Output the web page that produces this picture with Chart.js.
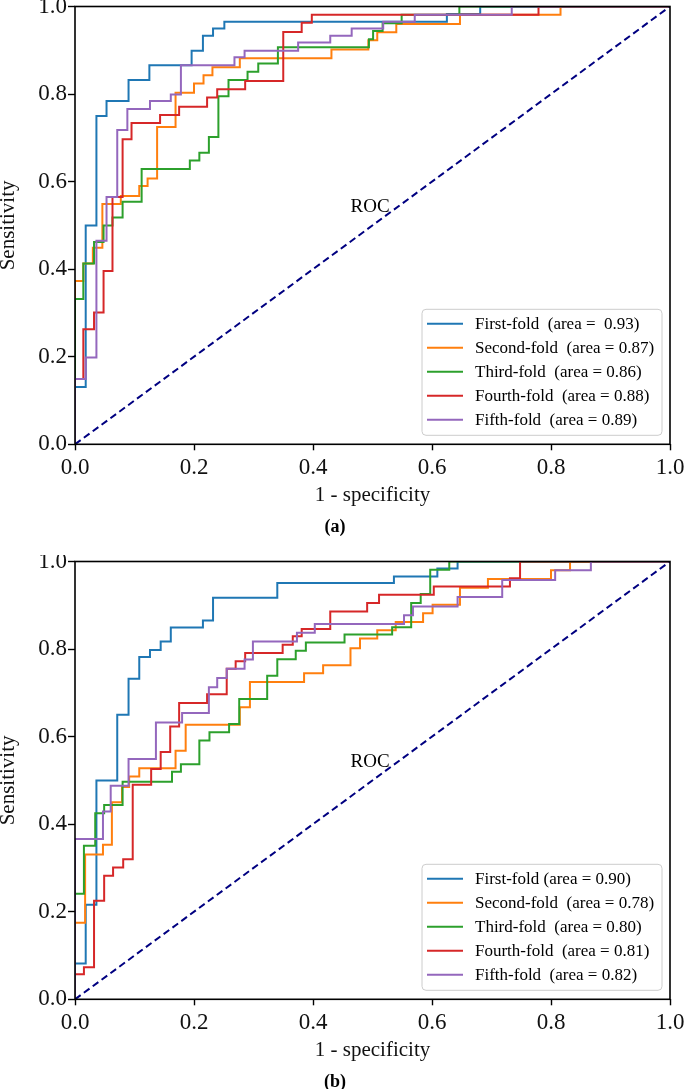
<!DOCTYPE html>
<html>
<head>
<meta charset="utf-8">
<script src="https://cdn.jsdelivr.net/npm/chart.js@4.4.0/dist/chart.umd.min.js"></script>
<style>
  html, body { margin: 0; padding: 0; background: #fff; overflow: hidden; }
  .panel { position: absolute; left: 0; width: 685px; height: 555px; }
  #panelA { top: 0; }
  #panelB { top: 555px; }
</style>
</head>
<body>
<div class="panel" id="panelA"><canvas id="rocA"></canvas></div>
<div class="panel" id="panelB"><canvas id="rocB"></canvas></div>
<script>
// ROC points: at each fpr value the curve rises to the tpr value
const fprA1 = [0, 0, 0.018, 0.036, 0.053, 0.090, 0.125, 0.196, 0.215, 0.232, 0.251, 0.625, 0.681, 1];
const tprA1 = [0, 0.131, 0.500, 0.750, 0.784, 0.832, 0.866, 0.899, 0.933, 0.950, 0.965, 0.983, 1.0, 1];
const fprA2 = [0, 0, 0.014, 0.030, 0.046, 0.077, 0.108, 0.122, 0.138, 0.169, 0.200, 0.216, 0.231, 0.277, 0.431, 0.493, 0.508, 0.540, 0.647, 0.816, 1];
const tprA2 = [0, 0.373, 0.413, 0.449, 0.549, 0.567, 0.590, 0.607, 0.725, 0.803, 0.824, 0.843, 0.861, 0.882, 0.902, 0.923, 0.941, 0.960, 0.981, 1.0, 1];
const fprA3 = [0, 0, 0.014, 0.032, 0.048, 0.063, 0.080, 0.112, 0.193, 0.209, 0.225, 0.241, 0.258, 0.290, 0.308, 0.341, 0.494, 0.501, 0.517, 0.549, 0.646, 1];
const tprA3 = [0, 0.332, 0.413, 0.462, 0.500, 0.518, 0.554, 0.629, 0.648, 0.666, 0.702, 0.795, 0.832, 0.851, 0.870, 0.907, 0.925, 0.944, 0.962, 0.981, 1.0, 1];
const fprA4 = [0, 0, 0.014, 0.032, 0.048, 0.063, 0.080, 0.095, 0.143, 0.175, 0.222, 0.239, 0.286, 0.350, 0.381, 0.398, 0.779, 1];
const tprA4 = [0, 0.149, 0.263, 0.301, 0.396, 0.565, 0.697, 0.734, 0.752, 0.771, 0.792, 0.811, 0.830, 0.942, 0.963, 0.981, 1.0, 1];
const fprA5 = [0, 0, 0.018, 0.036, 0.053, 0.071, 0.088, 0.126, 0.161, 0.178, 0.268, 0.285, 0.375, 0.429, 0.465, 0.518, 0.571, 0.734, 1];
const tprA5 = [0, 0.149, 0.198, 0.465, 0.565, 0.718, 0.766, 0.784, 0.799, 0.866, 0.884, 0.899, 0.918, 0.933, 0.950, 0.965, 0.981, 1.0, 1];

const fprB1 = [0, 0, 0.018, 0.036, 0.071, 0.090, 0.108, 0.126, 0.144, 0.161, 0.215, 0.232, 0.340, 0.536, 0.609, 0.643, 1];
const tprB1 = [0, 0.082, 0.216, 0.500, 0.650, 0.732, 0.782, 0.798, 0.817, 0.849, 0.865, 0.917, 0.951, 0.966, 0.984, 1.0, 1];
const fprB2 = [0, 0, 0.017, 0.047, 0.062, 0.079, 0.091, 0.108, 0.169, 0.186, 0.277, 0.294, 0.385, 0.417, 0.463, 0.479, 0.508, 0.539, 0.585, 0.601, 0.647, 0.694, 0.800, 0.832, 1];
const tprB2 = [0, 0.175, 0.331, 0.353, 0.450, 0.485, 0.509, 0.528, 0.568, 0.627, 0.667, 0.725, 0.745, 0.763, 0.802, 0.824, 0.843, 0.862, 0.882, 0.901, 0.940, 0.960, 0.980, 1.0, 1];
const fprB3 = [0, 0, 0.015, 0.034, 0.049, 0.080, 0.163, 0.178, 0.209, 0.226, 0.259, 0.276, 0.323, 0.340, 0.371, 0.388, 0.453, 0.533, 0.565, 0.581, 0.597, 0.629, 1];
const tprB3 = [0, 0.241, 0.351, 0.425, 0.444, 0.497, 0.520, 0.537, 0.591, 0.610, 0.629, 0.686, 0.739, 0.777, 0.796, 0.815, 0.833, 0.850, 0.905, 0.926, 0.981, 1.0, 1];
const fprB4 = [0, 0, 0.015, 0.032, 0.049, 0.064, 0.081, 0.097, 0.128, 0.144, 0.160, 0.175, 0.222, 0.255, 0.270, 0.286, 0.349, 0.366, 0.381, 0.429, 0.491, 0.511, 0.603, 0.731, 0.748, 1];
const tprB4 = [0, 0.057, 0.073, 0.225, 0.282, 0.301, 0.320, 0.490, 0.526, 0.565, 0.623, 0.677, 0.697, 0.755, 0.772, 0.791, 0.810, 0.829, 0.846, 0.886, 0.905, 0.924, 0.943, 0.962, 1.0, 1];
const fprB5 = [0, 0, 0.047, 0.060, 0.090, 0.136, 0.180, 0.225, 0.239, 0.255, 0.285, 0.299, 0.373, 0.403, 0.553, 0.568, 0.643, 0.718, 0.807, 0.867, 1];
const tprB5 = [0, 0.366, 0.429, 0.488, 0.549, 0.632, 0.654, 0.713, 0.734, 0.755, 0.776, 0.817, 0.837, 0.857, 0.877, 0.897, 0.919, 0.958, 0.980, 1.0, 1];

const legendA = ["First-fold  (area =  0.93)", "Second-fold  (area = 0.87)", "Third-fold  (area = 0.86)", "Fourth-fold  (area = 0.88)", "Fifth-fold  (area = 0.89)"];
const legendB = ["First-fold (area = 0.90)", "Second-fold  (area = 0.78)", "Third-fold  (area = 0.80)", "Fourth-fold  (area = 0.81)", "Fifth-fold  (area = 0.82)"];
const chanceLine = [0, 1];
const axisTicks = [0, 0.2, 0.4, 0.6, 0.8, 1.0];

const foldColors = ["#1f77b4", "#ff7f0e", "#2ca02c", "#d62728", "#9467bd"];
const serif = "'Liberation Serif', 'Times New Roman', serif";

function toPoints(fpr, tpr) {
  const n = Math.min(fpr.length, tpr.length);
  const pts = [];
  for (let i = 0; i < n; i++) pts.push({ x: fpr[i], y: tpr[i] });
  return pts;
}

// frame, "ROC" note and the legend box inside the axes
const decorPlugin = {
  id: "decor",
  afterDraw(chart) {
    const ctx = chart.ctx;
    const a = chart.chartArea;
    const xs = chart.scales.x, ys = chart.scales.y;
    ctx.save();

    ctx.fillStyle = "#000";
    ctx.font = "19px " + serif;
    ctx.textAlign = "center";
    ctx.textBaseline = "middle";
    ctx.fillText("ROC", xs.getPixelForValue(0.496), ys.getPixelForValue(0.542));

    ctx.strokeStyle = "#000";
    ctx.lineWidth = 1.6;
    ctx.strokeRect(a.left, a.top, a.right - a.left, a.bottom - a.top);

    const w = 240, h = 126;
    const x0 = a.right - 8 - w, y0 = a.bottom - 9 - h;
    ctx.beginPath();
    ctx.roundRect(x0, y0, w, h, 4);
    ctx.fillStyle = "rgba(255,255,255,0.85)";
    ctx.fill();
    ctx.strokeStyle = "#cccccc";
    ctx.lineWidth = 1;
    ctx.stroke();

    ctx.font = "17px " + serif;
    ctx.textAlign = "left";
    chart.data.datasets.forEach((ds, i) => {
      if (!ds.inLegend) return;
      const y = y0 + 14.5 + i * 24;
      ctx.strokeStyle = ds.borderColor;
      ctx.lineWidth = 2;
      ctx.beginPath();
      ctx.moveTo(x0 + 5, y);
      ctx.lineTo(x0 + 41, y);
      ctx.stroke();
      ctx.fillStyle = "#000";
      ctx.fillText(ds.label, x0 + 53, y + 1);
    });
    ctx.restore();
  }
};

function axisOptions(titleText, isX) {
  return {
    type: "linear",
    min: 0,
    max: 1,
    afterBuildTicks: s => { s.ticks = axisTicks.map(v => ({ value: v })); },
    afterFit: s => {
      if (isX) {
        s.height = 71.9;
        s.paddingLeft = 0;
        s.paddingRight = 0;
      } else {
        s.width = 75;
        s.paddingTop = 0;
        s.paddingBottom = 0;
      }
    },
    border: { display: false },
    grid: {
      drawOnChartArea: false,
      drawTicks: true,
      tickLength: isX ? 6 : 7,
      tickColor: "#000",
      tickWidth: 1.4
    },
    ticks: {
      color: "#111",
      font: { family: serif, size: 23 },
      padding: isX ? 3.9 : 1,
      maxRotation: 0,
      autoSkip: false,
      callback: v => Number(v).toFixed(1)
    },
    title: isX
      ? { display: true, text: titleText, color: "#111", font: { family: serif, size: 21, lineHeight: 1.2 }, padding: { top: 0, bottom: 8.6 } }
      : { display: true, text: titleText, color: "#111", font: { family: serif, size: 21, lineHeight: 0.8 }, padding: { top: 0, bottom: 0 } }
  };
}

function drawRoc(canvasId, folds, labels, caption) {
  const datasets = folds.map((f, i) => ({
    label: labels[i],
    data: toPoints(f[0], f[1]),
    borderColor: foldColors[i],
    backgroundColor: foldColors[i],
    borderWidth: 2,
    stepped: "before",
    pointRadius: 0,
    fill: false,
    order: 5 - i,
    inLegend: true
  }));
  datasets.push({
    label: "chance",
    data: toPoints(chanceLine, chanceLine),
    borderColor: "#000080",
    borderWidth: 2,
    borderDash: [7, 4],
    pointRadius: 0,
    fill: false,
    order: 0,
    inLegend: false
  });

  new Chart(document.getElementById(canvasId), {
    type: "line",
    data: { datasets },
    options: {
      responsive: true,
      maintainAspectRatio: false,
      animation: false,
      parsing: false,
      layout: { padding: { left: 0, right: 15, top: 6.5, bottom: 17.2 } },
      plugins: {
        legend: { display: false },
        tooltip: { enabled: false },
        title: {
          display: true,
          position: "bottom",
          text: caption,
          color: "#000",
          font: { family: serif, size: 18, weight: "bold", lineHeight: 1.2 },
          padding: 0
        }
      },
      scales: {
        x: axisOptions("1 - specificity", true),
        y: axisOptions("Sensitivity", false)
      }
    },
    plugins: [decorPlugin]
  });
}

drawRoc("rocA",
  [[fprA1, tprA1], [fprA2, tprA2], [fprA3, tprA3], [fprA4, tprA4], [fprA5, tprA5]],
  legendA, "(a)");
drawRoc("rocB",
  [[fprB1, tprB1], [fprB2, tprB2], [fprB3, tprB3], [fprB4, tprB4], [fprB5, tprB5]],
  legendB, "(b)");
</script>
</body>
</html>
